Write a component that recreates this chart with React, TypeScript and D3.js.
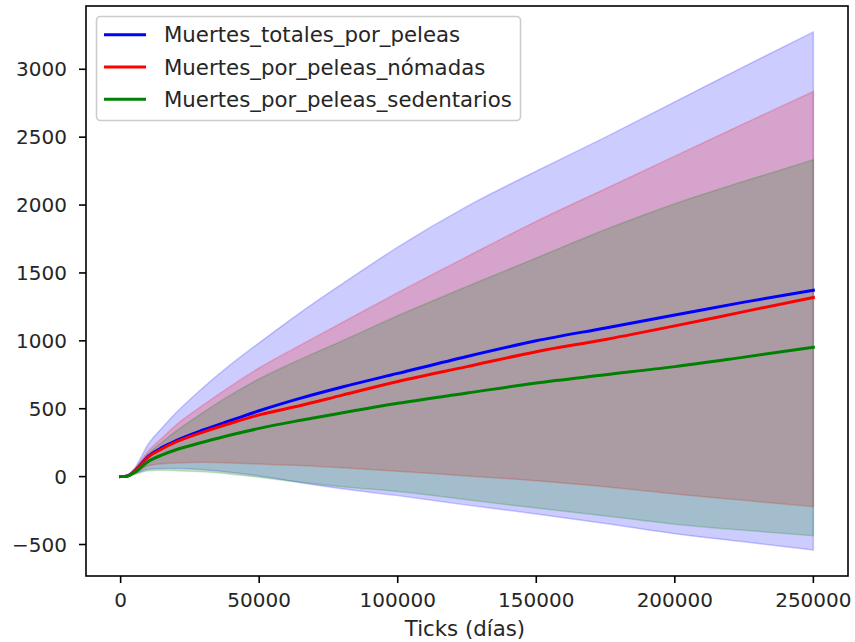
import React from "react";
import * as d3 from "d3";

// Simulation ticks (days) at which the averaged series were sampled
const ticks = [0, 2500, 5000, 10000, 15000, 20000, 30000, 40000, 50000, 65000, 80000, 100000, 125000, 150000, 175000, 200000, 225000, 250000];

// Mean deaths from fights
const totalMean = [0, 5, 40, 150, 215, 265, 345, 415, 485, 578, 660, 760, 885, 1000, 1095, 1190, 1285, 1372];
const nomadMean = [0, 5, 40, 145, 205, 255, 330, 395, 455, 524, 600, 700, 810, 920, 1010, 1110, 1215, 1319];
const sedentaryMean = [0, 5, 30, 112, 160, 198, 255, 308, 355, 415, 470, 540, 615, 690, 750, 810, 880, 952];

// Upper / lower band (mean ± std)
const totalUpper = [0, 10, 60, 240, 360, 470, 660, 830, 985, 1210, 1420, 1690, 1990, 2250, 2500, 2760, 3020, 3275];
const totalLower = [0, 2, 20, 55, 60, 60, 50, 30, 5, -45, -90, -140, -210, -275, -345, -420, -480, -541];
const nomadUpper = [0, 8, 55, 190, 285, 380, 530, 670, 800, 970, 1135, 1355, 1620, 1880, 2120, 2360, 2600, 2837];
const nomadLower = [0, 2, 25, 80, 95, 100, 105, 100, 92, 81, 65, 40, 5, -30, -75, -128, -175, -221];
const sedentaryUpper = [0, 8, 50, 170, 255, 335, 475, 605, 720, 865, 1000, 1185, 1400, 1610, 1820, 2010, 2175, 2333];
const sedentaryLower = [0, 2, 15, 44, 46, 44, 35, 18, -5, -42, -75, -110, -170, -232, -290, -350, -395, -436];

const seriesNames = ["Muertes_totales_por_peleas", "Muertes_por_peleas_nómadas", "Muertes_por_peleas_sedentarios"];
const seriesColors = ["#0000ff", "#ff0000", "#008000"];

const xTickValues = [0, 50000, 100000, 150000, 200000, 250000];
const yTickValues = [-500, 0, 500, 1000, 1500, 2000, 2500, 3000];
const xLabel = "Ticks (días)";

const W = 855;
const H = 642;
const plot = { left: 86, right: 848, top: 6, bottom: 576 };
const FONT = "'DejaVu Sans', sans-serif";

export default function App() {
  const x = d3.scaleLinear().domain([-12500, 262500]).range([plot.left, plot.right]);
  const y = d3.scaleLinear().domain([-732, 3466]).range([plot.bottom, plot.top]);

  const series = [
    { mean: totalMean, upper: totalUpper, lower: totalLower },
    { mean: nomadMean, upper: nomadUpper, lower: nomadLower },
    { mean: sedentaryMean, upper: sedentaryUpper, lower: sedentaryLower },
  ];

  const line = (vals: number[]) =>
    d3.line<number>().x((_, i) => x(ticks[i])).y((v) => y(v)).curve(d3.curveMonotoneX)(vals) || "";

  const area = (lo: number[], hi: number[]) =>
    d3
      .area<number>()
      .x((_, i) => x(ticks[i]))
      .y0((_, i) => y(lo[i]))
      .y1((_, i) => y(hi[i]))
      .curve(d3.curveMonotoneX)(ticks) || "";

  const fmt = (v: number) => (v < 0 ? "\u2212" + Math.abs(v) : String(v));

  return (
    <svg width={W} height={H} style={{ position: "absolute", left: 0, top: 0, background: "#fff" }} fontFamily={FONT}>
      <rect x={0} y={0} width={W} height={H} fill="#fff" />
      <defs>
        <clipPath id="plotClip">
          <rect x={plot.left} y={plot.top} width={plot.right - plot.left} height={plot.bottom - plot.top} />
        </clipPath>
      </defs>
      <g clipPath="url(#plotClip)">
        {series.map((s, i) => (
          <path
            key={"band" + i}
            d={area(s.lower, s.upper)}
            fill={seriesColors[i]}
            fillOpacity={0.2}
            stroke={seriesColors[i]}
            strokeOpacity={0.2}
            strokeWidth={1.5}
          />
        ))}
        {series.map((s, i) => (
          <path key={"line" + i} d={line(s.mean)} fill="none" stroke={seriesColors[i]} strokeWidth={3} strokeLinecap="square" />
        ))}
      </g>

      {/* axes frame */}
      <rect
        x={plot.left}
        y={plot.top}
        width={plot.right - plot.left}
        height={plot.bottom - plot.top}
        fill="none"
        stroke="#000"
        strokeWidth={1.6}
      />

      {/* x ticks */}
      {xTickValues.map((v) => (
        <g key={"xt" + v}>
          <line x1={x(v)} x2={x(v)} y1={plot.bottom} y2={plot.bottom + 7} stroke="#000" strokeWidth={1.6} />
          <text x={x(v)} y={plot.bottom + 31} textAnchor="middle" fontSize={20} fill="#262626">
            {fmt(v)}
          </text>
        </g>
      ))}

      {/* y ticks */}
      {yTickValues.map((v) => (
        <g key={"yt" + v}>
          <line x1={plot.left - 7} x2={plot.left} y1={y(v)} y2={y(v)} stroke="#000" strokeWidth={1.6} />
          <text x={plot.left - 19} y={y(v)} dy="0.36em" textAnchor="end" fontSize={20} fill="#262626">
            {fmt(v)}
          </text>
        </g>
      ))}

      <text x={(plot.left + plot.right) / 2 - 2} y={636} textAnchor="middle" fontSize={21.3} fill="#262626">
        {xLabel}
      </text>

      {/* legend */}
      <g>
        <rect x={96.5} y={16.5} width={424} height={104} rx={4} fill="#fff" fillOpacity={0.8} stroke="#cccccc" strokeWidth={1.6} />
        {seriesNames.map((name, i) => {
          const cy = 34.7 + i * 32.3;
          return (
            <g key={"lg" + i}>
              <line x1={104} x2={146} y1={cy} y2={cy} stroke={seriesColors[i]} strokeWidth={3} />
              <text x={164} y={cy} dy="0.36em" fontSize={21.3} fill="#262626">
                {name}
              </text>
            </g>
          );
        })}
      </g>
    </svg>
  );
}
